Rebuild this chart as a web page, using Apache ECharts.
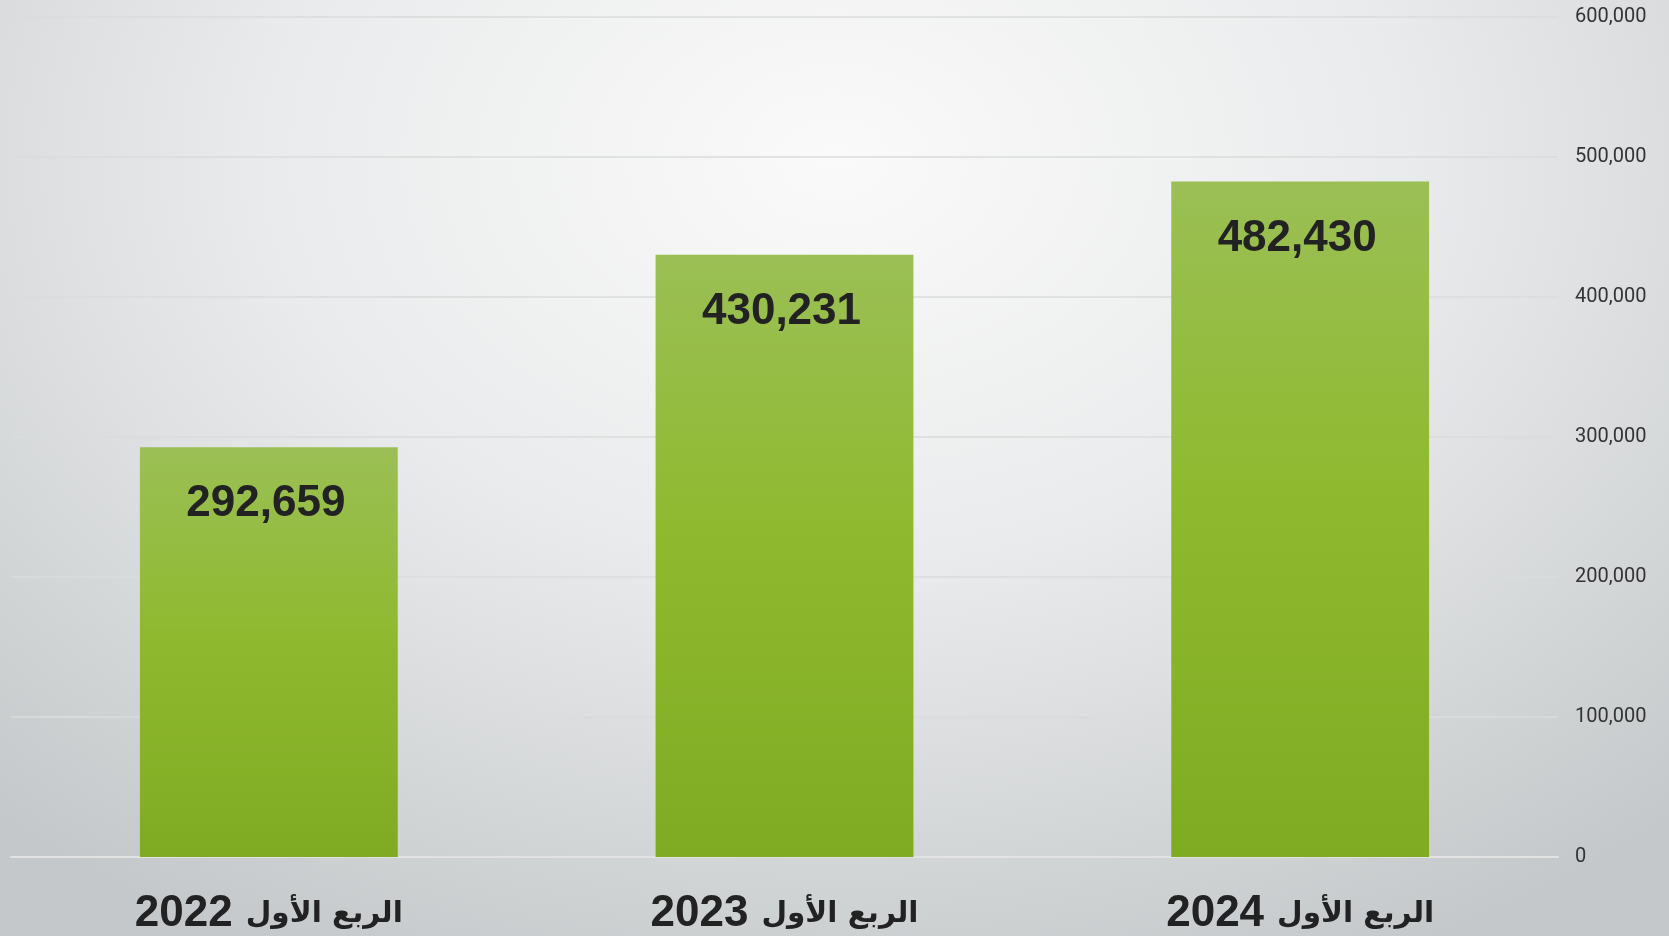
<!DOCTYPE html>
<html lang="ar">
<head>
    <meta charset="UTF-8">
    <title>الربع الأول</title>
    <script src="https://cdn.jsdelivr.net/npm/echarts@6/dist/echarts.min.js"></script>
    <style type="text/css">
        html, body { margin: 0; padding: 0; }
        #chart {
            width: 1669px;
            height: 936px;
            background: radial-gradient(ellipse 75% 95% at 50% 17%, #fafafa 0%, #eaebec 45%, #d2d5d6 80%, #c5c8ca 100%);
        }
    </style>
</head>
<body>
<div id="chart"></div>
<script type="text/javascript">
    // data
    var quarter = 'الربع الأول';
    var years = ['2022', '2023', '2024'];
    var values = [292659, 430231, 482430];
    var yTicks = [0, 100000, 200000, 300000, 400000, 500000, 600000];

    var chart = echarts.init(document.getElementById('chart'));

    function fmt(v) {
        return v.toString().replace(/\B(?=(\d{3})+(?!\d))/g, ',');
    }

    chart.setOption({
        backgroundColor: 'transparent',
        animation: false,
        grid: {left: 11, right: 111, top: 17, bottom: 79},
        xAxis: {
            type: 'category',
            data: years,
            axisLine: {show: true, lineStyle: {color: '#e2e2e2', width: 2}},
            axisTick: {show: false},
            axisLabel: {
                margin: 35,
                color: '#222',
                fontWeight: 'bold',
                fontFamily: 'Liberation Sans, DejaVu Sans, sans-serif',
                // year on the left, arabic words on the right, like the original
                formatter: function (v) { return '{n|' + v + '}{ar|' + quarter + '}'; },
                rich: {
                    n: {fontSize: 44, fontWeight: 'bold', color: '#222', fontFamily: 'Liberation Sans, sans-serif', padding: [0, 13, 0, 0]},
                    ar: {fontSize: 29.5, fontWeight: 'bold', color: '#222', fontFamily: 'DejaVu Sans, sans-serif'}
                }
            }
        },
        yAxis: {
            type: 'value',
            position: 'right',
            min: yTicks[0],
            max: yTicks[yTicks.length - 1],
            interval: 100000,
            axisLine: {show: false},
            axisTick: {show: false},
            splitLine: {lineStyle: {color: '#dadcdd', width: 1.5}},
            axisLabel: {
                margin: 17,
                color: '#333',
                fontSize: 20,
                fontFamily: 'Roboto, Liberation Sans, sans-serif',
                formatter: function (v) { return fmt(v); }
            }
        },
        series: [{
            type: 'bar',
            data: values,
            barWidth: '50%',
            itemStyle: {
                color: new echarts.graphic.LinearGradient(0, 0, 0, 1, [
                    {offset: 0, color: '#9bbf55'},
                    {offset: 0.45, color: '#8fba30'},
                    {offset: 1, color: '#7fab22'}
                ])
            },
            label: {
                show: true,
                position: ['50%', 57],
                offset: [-3, 0],
                align: 'center',
                verticalAlign: 'middle',
                color: '#222',
                fontSize: 44,
                fontWeight: 'bold',
                fontFamily: 'Liberation Sans, Arial, sans-serif',
                formatter: function (p) { return fmt(p.value); }
            }
        }]
    });
</script>
</body>
</html>
